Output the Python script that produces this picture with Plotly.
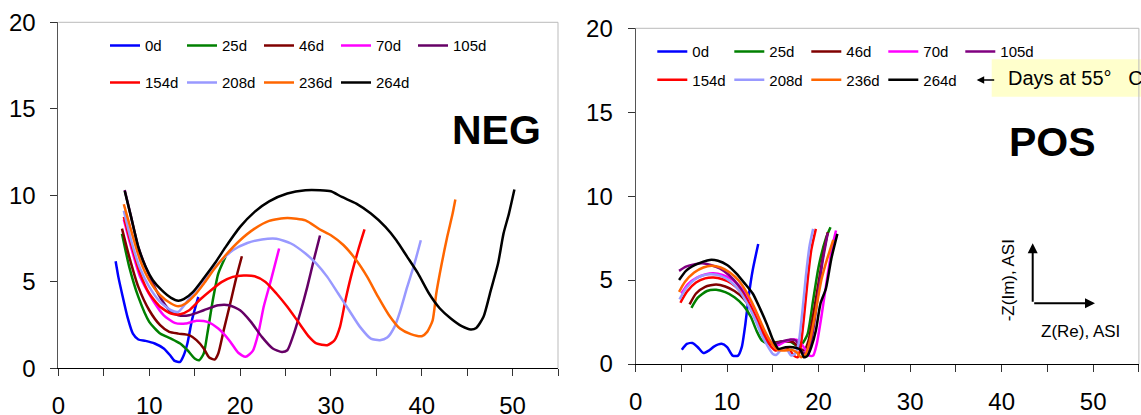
import plotly.graph_objects as go

W, H = 1141, 415

labels = ["0d", "25d", "46d", "70d", "105d", "154d", "208d", "236d", "264d"]
colors_neg = ["#0000FF", "#008000", "#800000", "#FF00FF", "#660066",
              "#FF0000", "#9999FF", "#FF6600", "#000000"]
colors_pos = ["#0000FF", "#008000", "#800000", "#FF00FF", "#800080",
              "#FF0000", "#9999FF", "#FF6600", "#000000"]

# ---------------- NEG electrode (x = Z(Re), y = -Z(Im)) ----------------
neg_0d_x = [6.3, 6.6, 7.0, 7.6, 8.2, 8.8, 9.6, 10.6, 11.6, 12.3, 12.8, 13.4, 13.8, 14.2, 14.7, 15.4]
neg_0d_y = [6.18, 5.28, 4.32, 2.97, 2.0, 1.66, 1.58, 1.43, 1.14, 0.75, 0.42, 0.37, 0.75, 1.43, 2.77, 4.12]
neg_25d_x = [7.0, 7.8, 8.8, 10.0, 11.2, 12.4, 13.4, 14.2, 15.0, 15.5, 16.0, 16.4, 17.0, 17.6, 18.4]
neg_25d_y = [7.78, 5.86, 4.12, 2.68, 2.0, 1.71, 1.43, 1.04, 0.56, 0.46, 0.85, 2.0, 3.93, 5.47, 6.44]
neg_46d_x = [7.0, 7.8, 8.8, 10.0, 11.2, 12.2, 13.2, 14.4, 15.2, 16.0, 16.6, 17.2, 17.6, 18.2, 19.0, 19.6, 20.2]
neg_46d_y = [8.07, 6.44, 4.7, 3.35, 2.49, 2.1, 2.0, 1.91, 1.62, 1.14, 0.62, 0.5, 0.85, 2.2, 3.93, 5.28, 6.47]
neg_70d_x = [7.2, 8.0, 9.0, 10.4, 11.6, 12.8, 14.0, 15.2, 16.4, 17.6, 18.8, 19.8, 20.6, 21.4, 22.0, 22.6, 23.4, 24.3]
neg_70d_y = [8.6, 7.0, 5.28, 3.93, 3.06, 2.62, 2.58, 2.74, 2.68, 2.29, 1.62, 0.89, 0.66, 1.0, 2.0, 3.55, 5.09, 6.92]
neg_105d_x = [7.3, 8.0, 8.8, 9.6, 10.4, 11.4, 12.4, 13.2, 14.4, 16.0, 17.6, 18.8, 20.0, 21.2, 22.4,
              23.6, 24.6, 25.2, 25.8, 26.6, 27.4, 28.2, 28.8]
neg_105d_y = [10.3, 8.75, 7.0, 5.86, 4.9, 3.93, 3.26, 3.06, 3.06, 3.35, 3.64, 3.64, 3.35, 2.68, 1.81,
              1.14, 0.94, 1.04, 1.81, 3.16, 4.7, 6.44, 7.67]
neg_154d_x = [7.2, 8.0, 9.0, 10.0, 11.2, 12.4, 13.4, 14.4, 15.6, 16.8, 18.0, 19.2, 20.4, 21.6, 22.8,
              24.0, 25.2, 26.4, 27.6, 28.4, 29.6, 30.4, 31.0, 31.6, 32.2, 33.0, 33.7]
neg_154d_y = [8.75, 7.2, 5.47, 4.32, 3.55, 3.16, 3.12, 3.35, 3.97, 4.51, 4.99, 5.28, 5.36, 5.32, 4.99,
              4.32, 3.55, 2.68, 1.81, 1.43, 1.33, 1.62, 2.39, 3.93, 5.28, 6.82, 8.02]
neg_208d_x = [7.2, 8.0, 9.0, 10.0, 11.2, 12.4, 13.2, 14.8, 16.0, 17.6, 19.2, 20.8, 22.4, 24.0, 25.6,
              27.2, 28.4, 29.6, 30.8, 32.0, 33.2, 34.4, 35.4, 36.2, 37.0, 37.6, 38.4, 39.2, 39.9]
neg_208d_y = [9.1, 7.4, 5.76, 4.7, 3.83, 3.35, 3.26, 4.32, 5.09, 6.05, 6.82, 7.24, 7.44, 7.48, 7.21,
              6.63, 6.05, 5.28, 4.32, 3.35, 2.39, 1.71, 1.62, 1.77, 2.39, 3.26, 4.7, 6.05, 7.4]
neg_236d_x = [7.2, 8.0, 9.0, 10.0, 11.2, 12.4, 13.2, 14.0, 15.0, 16.0, 17.2, 18.4, 20.0, 21.6, 23.2,
              25.2, 27.2, 28.8, 30.0, 31.4, 32.8, 34.0, 35.2, 36.4, 37.6, 38.8, 40.0, 40.6, 41.2,
              41.6, 42.2, 42.8, 43.4, 43.7]
neg_236d_y = [9.48, 7.98, 6.24, 5.09, 4.22, 3.74, 3.58, 3.74, 4.22, 4.89, 5.76, 6.53, 7.4, 8.07, 8.52,
              8.69, 8.55, 8.02, 7.69, 7.11, 6.24, 5.28, 4.12, 3.06, 2.29, 1.97, 1.85, 2.1, 2.77,
              4.32, 6.05, 7.59, 8.94, 9.75]
neg_264d_x = [7.3, 8.0, 8.8, 9.6, 10.4, 11.4, 12.4, 13.2, 13.8, 14.8, 16.0, 17.2, 18.4, 20.0, 21.6,
              23.2, 25.2, 27.2, 28.8, 30.0, 31.2, 32.8, 34.4, 36.0, 37.2, 38.4, 39.6, 40.8, 42.0,
              43.2, 44.4, 45.4, 46.0, 46.8, 47.6, 48.4, 49.0, 49.6, 50.2]
neg_264d_y = [10.25, 8.75, 7.0, 5.86, 5.09, 4.5, 4.07, 3.9, 3.99, 4.4, 5.2, 6.05, 7.0, 8.17, 9.04,
              9.65, 10.1, 10.29, 10.29, 10.23, 9.9, 9.52, 8.94, 8.17, 7.4, 6.44, 5.47, 4.32, 3.45,
              2.87, 2.43, 2.24, 2.33, 2.97, 4.5, 6.05, 7.78, 8.94, 10.33]

# ---------------- POS electrode ----------------
pos_0d_x = [5.05, 5.6, 6.2, 6.8, 7.4, 8.0, 8.6, 9.4, 10.0, 10.6, 11.2, 11.6, 12.0, 12.4, 12.8, 13.4]
pos_0d_y = [0.85, 1.2, 1.25, 1.0, 0.65, 0.8, 1.05, 1.2, 1.0, 0.5, 0.5, 1.0, 2.4, 4.2, 5.6, 7.15]
pos_25d_x = [6.1, 6.8, 7.8, 8.8, 9.8, 10.8, 11.8, 12.6, 13.2, 13.8, 14.6, 15.4, 16.2, 17.0, 17.6,
             18.2, 18.8, 19.4, 20.0, 20.8, 21.3]
pos_25d_y = [3.35, 3.95, 4.35, 4.42, 4.28, 3.98, 3.48, 2.8, 2.0, 1.4, 1.2, 1.3, 1.35, 1.3, 1.1,
             1.2, 1.8, 3.8, 5.8, 7.5, 8.15]
pos_46d_x = [5.9, 6.6, 7.6, 8.8, 9.8, 10.8, 11.8, 12.8, 13.5, 14.2, 14.9, 15.6, 16.4, 17.2, 17.8,
             18.4, 18.9, 19.5, 20.1, 20.6, 21.0]
pos_46d_y = [3.55, 4.2, 4.6, 4.74, 4.62, 4.35, 3.9, 3.1, 2.3, 1.6, 1.25, 1.3, 1.35, 1.3, 1.0,
             0.8, 1.4, 3.2, 5.2, 6.8, 7.85]
pos_70d_x = [5.0, 5.7, 6.7, 7.7, 8.5, 9.5, 10.5, 11.5, 12.5, 13.3, 14.0, 14.8, 15.5, 16.2, 17.0,
             17.8, 18.5, 19.0, 19.4, 19.8, 20.3, 20.9, 21.5, 21.9]
pos_70d_y = [4.2, 4.75, 5.15, 5.35, 5.4, 5.3, 5.05, 4.55, 3.8, 2.9, 2.0, 1.3, 1.1, 1.3, 1.45,
             1.4, 0.9, 0.5, 0.5, 1.2, 2.8, 5.0, 7.0, 7.95]
pos_105d_x = [4.75, 5.5, 6.5, 7.3, 8.2, 9.2, 10.2, 11.2, 12.2, 13.0, 13.8, 14.5, 15.2, 16.0, 16.8,
              17.5, 18.2, 18.8, 19.4, 19.9, 20.4, 21.0]
pos_105d_y = [5.55, 5.8, 5.95, 6.0, 5.9, 5.7, 5.3, 4.7, 3.8, 2.8, 1.9, 1.3, 1.2, 1.35, 1.45,
              1.4, 0.7, 0.6, 2.0, 4.0, 6.0, 7.8]
pos_154d_x = [4.9, 5.6, 6.6, 7.6, 8.5, 9.5, 10.5, 11.5, 12.5, 13.3, 14.0, 14.7, 15.3, 16.0, 16.8,
              17.3, 17.7, 18.0, 18.4, 18.8, 19.2, 19.7]
pos_154d_y = [3.65, 4.3, 4.85, 5.1, 5.15, 5.05, 4.8, 4.3, 3.5, 2.6, 1.8, 1.1, 0.8, 0.9, 0.85,
              0.5, 0.4, 0.9, 2.8, 5.0, 6.8, 8.05]
pos_208d_x = [4.8, 5.5, 6.5, 7.5, 8.3, 9.3, 10.3, 11.3, 12.3, 13.1, 13.8, 14.5, 15.0, 15.4, 16.0,
              16.6, 17.0, 17.4, 17.8, 18.2, 18.6, 19.0, 19.4]
pos_208d_y = [3.85, 4.5, 5.05, 5.3, 5.35, 5.25, 4.95, 4.4, 3.5, 2.6, 1.7, 1.0, 0.6, 0.55, 0.9,
              0.8, 0.5, 0.6, 1.2, 3.0, 5.2, 7.0, 8.05]
pos_236d_x = [4.75, 5.4, 6.4, 7.4, 8.3, 9.3, 10.3, 11.3, 12.3, 13.2, 14.0, 14.8, 15.5, 16.2, 17.0,
              17.6, 18.1, 18.6, 19.1, 19.7, 20.3, 20.9, 21.6]
pos_236d_y = [4.3, 4.9, 5.45, 5.75, 5.85, 5.75, 5.45, 4.95, 4.1, 3.1, 2.1, 1.3, 0.85, 0.8, 0.85,
              0.7, 0.4, 0.6, 1.5, 3.2, 5.0, 6.2, 7.4]
pos_264d_x = [4.75, 5.5, 6.5, 7.4, 8.1, 9.0, 10.0, 11.0, 12.0, 12.8, 13.6, 14.4, 15.0, 15.6, 16.4,
              17.2, 18.0, 18.4, 18.8, 19.2, 19.7, 20.2, 20.8, 21.4, 22.05]
pos_264d_y = [5.0, 5.55, 5.9, 6.1, 6.2, 6.15, 5.9, 5.4, 4.75, 4.2, 3.3, 2.3, 1.45, 0.9, 1.0,
              1.0, 0.85, 0.4, 0.5, 1.0, 2.0, 3.6, 4.5, 6.3, 7.75]

neg_series = [(neg_0d_x, neg_0d_y), (neg_25d_x, neg_25d_y), (neg_46d_x, neg_46d_y),
              (neg_70d_x, neg_70d_y), (neg_105d_x, neg_105d_y), (neg_154d_x, neg_154d_y),
              (neg_208d_x, neg_208d_y), (neg_236d_x, neg_236d_y), (neg_264d_x, neg_264d_y)]
pos_series = [(pos_0d_x, pos_0d_y), (pos_25d_x, pos_25d_y), (pos_46d_x, pos_46d_y),
              (pos_70d_x, pos_70d_y), (pos_105d_x, pos_105d_y), (pos_154d_x, pos_154d_y),
              (pos_208d_x, pos_208d_y), (pos_236d_x, pos_236d_y), (pos_264d_x, pos_264d_y)]

x_ticks = [0, 10, 20, 30, 40, 50]
y_ticks = [0, 5, 10, 15, 20]

FONT = "Liberation Sans, Arial, sans-serif"

fig = go.Figure()

for i, (lab, (xs, ys)) in enumerate(zip(labels, neg_series)):
    fig.add_trace(go.Scatter(
        x=xs, y=ys, name=lab, mode="lines", xaxis="x", yaxis="y",
        line=dict(color=colors_neg[i], width=2.5, shape="spline", smoothing=0.6),
        legend="legend" if i < 5 else "legend2", hoverinfo="skip"))

for i, (lab, (xs, ys)) in enumerate(zip(labels, pos_series)):
    fig.add_trace(go.Scatter(
        x=xs, y=ys, name=lab, mode="lines", xaxis="x2", yaxis="y2",
        line=dict(color=colors_pos[i], width=2.5, shape="spline", smoothing=0.6),
        legend="legend3" if i < 5 else "legend4", hoverinfo="skip"))


def px(v):
    return v / W


def py(v):
    return 1 - v / H


def xax(domain, anchor):
    return dict(domain=domain, anchor=anchor, range=[0, 55], tickvals=x_ticks,
                ticks="outside", ticklen=7, tickcolor="#333333", showline=True,
                linecolor="#000000", linewidth=1, showgrid=False, zeroline=False,
                tickfont=dict(family=FONT, size=24, color="#000000"),
                ticklabelstandoff=9, automargin=False,
                minor=dict(tickvals=[5, 15, 25, 35, 45, 55], ticks="outside",
                           ticklen=7, tickcolor="#333333"))


def yax(domain, anchor):
    return dict(domain=domain, anchor=anchor, range=[0, 20], tickvals=y_ticks,
                ticks="outside", ticklen=7, tickcolor="#333333", showline=True,
                linecolor="#555555", linewidth=1, showgrid=False, zeroline=False,
                tickfont=dict(family=FONT, size=24, color="#000000"),
                ticklabelstandoff=10, automargin=False)


def leg(x, y):
    return dict(orientation="h", x=x, y=y, xanchor="left", yanchor="middle",
                bgcolor="rgba(0,0,0,0)", borderwidth=0,
                font=dict(family=FONT, size=15, color="#000000"),
                entrywidth=32, entrywidthmode="pixels", itemwidth=30,
                traceorder="normal", tracegroupgap=0)


L_dom_x = [px(58.4), px(558.0)]
L_dom_y = [py(368.2), py(22.3)]
R_dom_x = [px(635.6), px(1138.9)]
R_dom_y = [py(364.0), py(28.3)]

shapes = []
for xr, yr in (("x domain", "y domain"), ("x2 domain", "y2 domain")):
    shapes.append(dict(type="line", xref=xr, yref=yr, x0=0, x1=1, y0=1, y1=1,
                       line=dict(color="#BBBBBB", width=1)))
    shapes.append(dict(type="line", xref=xr, yref=yr, x0=1, x1=1, y0=0, y1=1,
                       line=dict(color="#BBBBBB", width=1)))
# yellow note box
shapes.append(dict(type="rect", xref="paper", yref="paper", x0=px(991.7), x1=px(1160),
                   y0=py(96.7), y1=py(59.3), fillcolor="#FFFFCC", line=dict(width=0),
                   layer="below"))

annotations = [
    dict(text="<b>NEG</b>", x=px(496), y=py(130), xref="paper", yref="paper",
         showarrow=False, xanchor="center", yanchor="middle",
         font=dict(family=FONT, size=41, color="#000000")),
    dict(text="<b>POS</b>", x=px(1052.7), y=py(142.3), xref="paper", yref="paper",
         showarrow=False, xanchor="center", yanchor="middle",
         font=dict(family=FONT, size=41, color="#000000")),
    dict(text="Days at 55°\u00a0\u00a0\u00a0C", x=px(1005.7), y=py(78.5), xref="paper", yref="paper",
         showarrow=False, xanchor="left", yanchor="middle",
         font=dict(family=FONT, size=20, color="#000000")),
    dict(text="", x=px(976.7), y=py(80), xref="paper", yref="paper",
         showarrow=True, ax=19, ay=0, arrowhead=2, arrowsize=1, arrowwidth=1.5,
         arrowcolor="#000000"),
    dict(text="", x=px(1032.7), y=py(243.3), xref="paper", yref="paper",
         showarrow=True, ax=0, ay=60, arrowhead=2, arrowsize=1, arrowwidth=2,
         arrowcolor="#000000"),
    dict(text="", x=px(1095), y=py(303.3), xref="paper", yref="paper",
         showarrow=True, ax=-62.3, ay=0, arrowhead=2, arrowsize=1, arrowwidth=2,
         arrowcolor="#000000"),
    dict(text="-Z(Im), ASI", x=px(1008.3), y=py(280), xref="paper", yref="paper",
         showarrow=False, textangle=-90, xanchor="center", yanchor="middle",
         font=dict(family=FONT, size=17, color="#000000")),
    dict(text="Z(Re), ASI", x=px(1080.8), y=py(331.7), xref="paper", yref="paper",
         showarrow=False, xanchor="center", yanchor="middle",
         font=dict(family=FONT, size=17, color="#000000")),
]

fig.update_layout(
    width=W, height=H, margin=dict(l=0, r=0, t=0, b=0),
    paper_bgcolor="#FFFFFF", plot_bgcolor="#FFFFFF",
    font=dict(family=FONT, color="#000000"),
    xaxis=xax(L_dom_x, "y"), yaxis=yax(L_dom_y, "x"),
    xaxis2=xax(R_dom_x, "y2"), yaxis2=yax(R_dom_y, "x2"),
    legend=leg(px(105), py(45.7)), legend2=leg(px(105), py(82.7)),
    legend3=leg(px(652.3), py(51.7)), legend4=leg(px(652.3), py(80.0)),
    shapes=shapes, annotations=annotations,
)

fig.write_html("out.html")
